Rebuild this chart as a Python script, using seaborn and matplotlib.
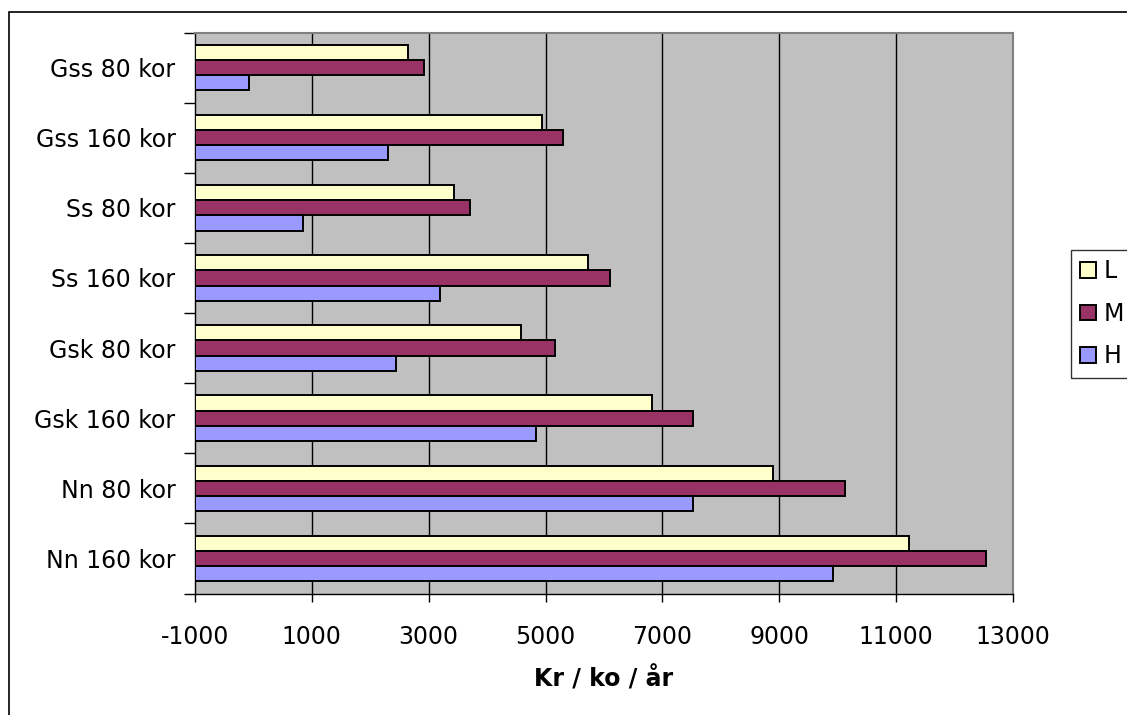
import numpy as np
import pandas as pd
import matplotlib
matplotlib.use("Agg")
import matplotlib.pyplot as plt
from matplotlib.patches import Rectangle
import seaborn as sns

categories = ["Gss 80 kor", "Gss 160 kor", "Ss 80 kor", "Ss 160 kor",
              "Gsk 80 kor", "Gsk 160 kor", "Nn 80 kor", "Nn 160 kor"]
series = ["L", "M", "H"]
L_vals = [2650, 4940, 3430, 5720, 4580, 6830, 8890, 11220]
M_vals = [2920, 5290, 3710, 6100, 5160, 7520, 10120, 12530]
H_vals = [-80, 2310, 840, 3200, 2440, 4840, 7520, 9920]
x_ticks = list(range(-1000, 13001, 2000))
x_label = "Kr / ko / år"
colors = {"L": "#FFFFCC", "M": "#993366", "H": "#9999FF"}

df = pd.DataFrame({
    "cat": categories * 3,
    "series": ["L"] * 8 + ["M"] * 8 + ["H"] * 8,
    "value": L_vals + M_vals + H_vals,
})

sns.set_theme(style="white")
plt.rcParams["font.family"] = ["DejaVu Sans"]
plt.rcParams["text.color"] = "black"
plt.rcParams["xtick.color"] = "black"
plt.rcParams["ytick.color"] = "black"
plt.rcParams["axes.labelcolor"] = "black"
FS = 17

W, H = 1127, 715
fig = plt.figure(figsize=(W / 100, H / 100), dpi=100)
fig.patch.set_facecolor("white")
ax = fig.add_axes([195 / W, 1 - 593.5 / H, (1013 - 195) / W, (593.5 - 32.5) / H])
ax.set_facecolor("#C0C0C0")

sns.barplot(data=df, y="cat", x="value", hue="series", order=categories,
            hue_order=series, palette=colors, orient="h", width=0.65,
            edgecolor="black", linewidth=1.4, saturation=1, ax=ax,
            errorbar=None, zorder=3)

# bars start at the axis crossing (-1000), as in the original chart
for cont in ax.containers:
    for p in cont:
        end = p.get_x() + p.get_width()
        p.set_x(-1000)
        p.set_width(end + 1000)

ax.set_xlim(-1000, 13000)
ax.set_ylim(7.5, -0.5)
ax.set_xticks(x_ticks)
ax.set_xticklabels([str(t) for t in x_ticks], fontsize=FS)
ax.set_yticks(range(len(categories)))
ax.set_yticklabels(categories, fontsize=FS)
ax.set_yticks(np.arange(-0.5, len(categories), 1), minor=True)
ax.tick_params(axis="y", which="major", length=0, pad=14)
ax.tick_params(axis="y", which="minor", length=8, width=1, direction="out", color="black", left=True)
ax.tick_params(axis="x", which="major", length=6, width=1, direction="out", color="black", bottom=True, pad=17)
ax.set_ylabel("")
ax.set_xlabel(x_label, fontsize=FS, fontweight="bold", labelpad=12)

ax.grid(False)
for t in x_ticks[1:-1]:
    ax.axvline(t, color="black", lw=1, zorder=1)
for s in ["left", "bottom"]:
    ax.spines[s].set_color("black")
    ax.spines[s].set_linewidth(1)
for s in ["top", "right"]:
    ax.spines[s].set_color("#808080")
    ax.spines[s].set_linewidth(1.5)

sns.move_legend(ax, loc="upper left", bbox_to_anchor=(1071 / W, 1 - 250 / H),
                bbox_transform=fig.transFigure, title=None, fontsize=FS,
                frameon=True, fancybox=False, edgecolor="black",
                handlelength=0.65, handleheight=0.65, handletextpad=0.35,
                labelspacing=0.78, borderpad=0.4, borderaxespad=0)
leg = ax.get_legend()
leg.get_frame().set_linewidth(1)
for h in leg.legend_handles:
    h.set_edgecolor("black")
    h.set_linewidth(1.4)

fig.patches.append(Rectangle((9 / W, -0.1), 1.2, 1 - 12 / H + 0.1,
                             transform=fig.transFigure, fill=False,
                             edgecolor="black", lw=1.2, zorder=0))

fig.savefig("out.png", dpi=100)
